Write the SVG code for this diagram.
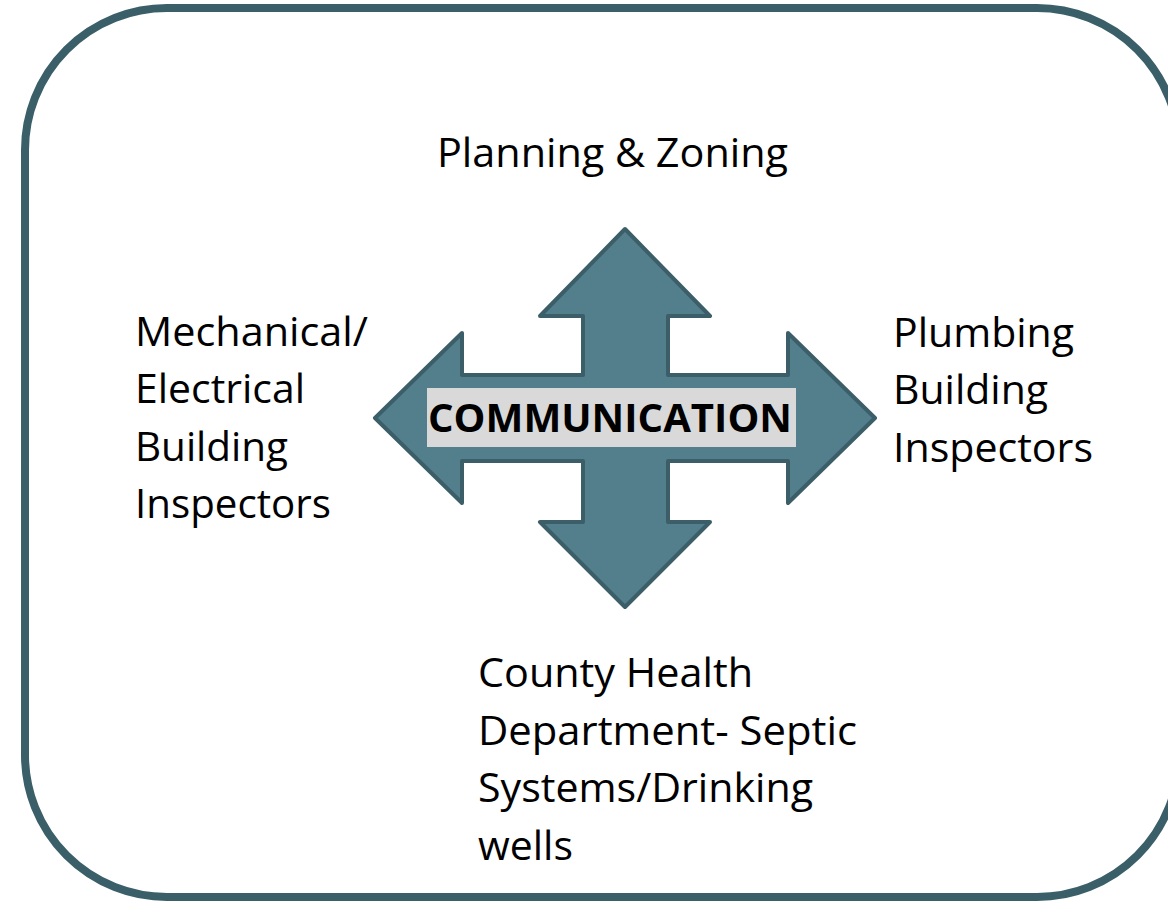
<svg xmlns="http://www.w3.org/2000/svg" width="1168" height="901" viewBox="0 0 1168 901">
<style>
.lbl{font-family:"Open Sans","Liberation Sans",sans-serif;font-size:41px;fill:#000;}
.bold{font-family:"Open Sans","Liberation Sans",sans-serif;font-size:39px;font-weight:bold;fill:#000;}
</style>
<rect x="0" y="0" width="1168" height="901" fill="#fff"/>
<g id="frame">
<rect x="25" y="8" width="1154" height="889" rx="142" ry="142" fill="none" stroke="#3A5F69" stroke-width="8"/>
</g>
<g id="connectors">
<path id="cross-arrow" d="M625,229 L710,316 L668,316 L668,375 L788,375 L788,333 L875,418 L788,503 L788,461 L668,461 L668,522 L710,522 L625,607 L540,522 L583,522 L583,461 L462,461 L462,503 L375,418 L462,333 L462,375 L583,375 L583,316 L540,316 Z" fill="#527F8B" stroke="#3B5E69" stroke-width="4" stroke-linejoin="round"/>
</g>
<g id="center">
<rect x="427" y="388" width="369" height="59" fill="#D9D9D9"/>
<text class="bold" x="428" y="432" textLength="364" lengthAdjust="spacingAndGlyphs">COMMUNICATION</text>
</g>
<g id="planning">
<text class="lbl" x="437" y="167" textLength="351" lengthAdjust="spacingAndGlyphs">Planning &amp; Zoning</text>
</g>
<g id="mechanical">
<text class="lbl" x="135" y="346" textLength="233" lengthAdjust="spacingAndGlyphs">Mechanical/</text>
<text class="lbl" x="135" y="403" textLength="170" lengthAdjust="spacingAndGlyphs">Electrical</text>
<text class="lbl" x="135" y="461" textLength="153" lengthAdjust="spacingAndGlyphs">Building</text>
<text class="lbl" x="135" y="518" textLength="196" lengthAdjust="spacingAndGlyphs">Inspectors</text>
</g>
<g id="plumbing">
<text class="lbl" x="893" y="347" textLength="181" lengthAdjust="spacingAndGlyphs">Plumbing</text>
<text class="lbl" x="893" y="404" textLength="155" lengthAdjust="spacingAndGlyphs">Building</text>
<text class="lbl" x="893" y="462" textLength="200" lengthAdjust="spacingAndGlyphs">Inspectors</text>
</g>
<g id="health">
<text class="lbl" x="478" y="687" textLength="275" lengthAdjust="spacingAndGlyphs">County Health</text>
<text class="lbl" x="478" y="745" textLength="379" lengthAdjust="spacingAndGlyphs">Department- Septic</text>
<text class="lbl" x="478" y="802" textLength="335" lengthAdjust="spacingAndGlyphs">Systems/Drinking</text>
<text class="lbl" x="478" y="860" textLength="95" lengthAdjust="spacingAndGlyphs">wells</text>
</g>
</svg>
